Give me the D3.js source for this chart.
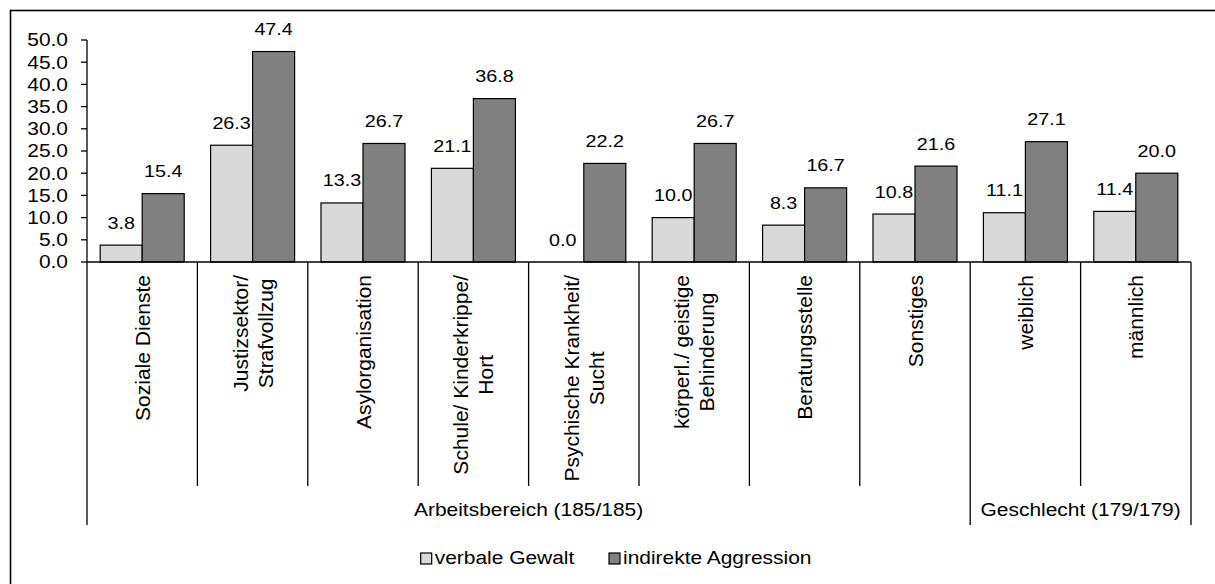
<!DOCTYPE html>
<html>
<head>
<meta charset="utf-8">
<script src="https://cdn.jsdelivr.net/npm/d3@7"></script>
<style>
  html, body { margin: 0; padding: 0; background: #fff; }
  svg { display: block; }
  text { font-family: "Liberation Sans", Arial, sans-serif; fill: #000; }
</style>
</head>
<body>
<svg id="chart" width="1215" height="584"></svg>
<script>
// ---- data ----
const categories = [
  "Soziale Dienste",
  "Justizsektor/\nStrafvollzug",
  "Asylorganisation",
  "Schule/ Kinderkrippe/\nHort",
  "Psychische Krankheit/\nSucht",
  "körperl./ geistige\nBehinderung",
  "Beratungsstelle",
  "Sonstiges",
  "weiblich",
  "männlich"
];
const seriesNames = ["verbale Gewalt", "indirekte Aggression"];
const verbaleGewalt = [3.8, 26.3, 13.3, 21.1, 0.0, 10.0, 8.3, 10.8, 11.1, 11.4];
const indirekteAggression = [15.4, 47.4, 26.7, 36.8, 22.2, 26.7, 16.7, 21.6, 27.1, 20.0];
const groupNames = ["Arbeitsbereich (185/185)", "Geschlecht (179/179)"];
const groupSizes = [8, 2];
const yTicks = [0, 5, 10, 15, 20, 25, 30, 35, 40, 45, 50];

// ---- layout / style ----
const colors = ["#d9d9d9", "#808080"];
const SX = 1.19; // horizontal glyph stretch of the original's horizontal texts
const svg = d3.select("#chart");

svg.append("rect").attr("x", 10.5).attr("y", 10.5)
  .attr("width", 1230).attr("height", 600)
  .attr("fill", "none").attr("stroke", "#000").attr("stroke-width", 1.6);

const x = d3.scaleBand().domain(categories).range([87, 1191]).paddingInner(0).paddingOuter(0);
const xs = d3.scaleBand().domain(seriesNames).range([0, x.bandwidth()]).paddingInner(0).paddingOuter(0.314);
const y = d3.scaleLinear().domain([0, 50]).range([262, 40]);

function sText(parent, px, py, str, size, anchor) {
  const g = parent.append("g").attr("transform", `translate(${px},${py}) scale(${SX},1)`);
  return g.append("text").attr("x", 0).attr("y", 0)
    .attr("font-size", size).attr("text-anchor", anchor).text(str);
}

// y axis
const gy = svg.append("g");
gy.append("line").attr("x1", 87).attr("x2", 87).attr("y1", y(50)).attr("y2", y(0))
  .attr("stroke", "#000").attr("stroke-width", 1.3);
yTicks.forEach(t => {
  gy.append("line").attr("x1", 81).attr("x2", 87).attr("y1", y(t)).attr("y2", y(t))
    .attr("stroke", "#000").attr("stroke-width", 1.3);
  sText(gy, 68, y(t) + 6.3, d3.format(".1f")(t), 17.6, "end");
});

// bars
const series = [verbaleGewalt, indirekteAggression];
const gb = svg.append("g");
categories.forEach((c, i) => {
  seriesNames.forEach((s, j) => {
    const v = series[j][i];
    const bx = x(c) + xs(s);
    if (v > 0) {
      gb.append("rect").attr("x", bx).attr("y", y(v))
        .attr("width", xs.bandwidth()).attr("height", y(0) - y(v))
        .attr("fill", colors[j]).attr("stroke", "#000").attr("stroke-width", 1.2);
    }
    sText(gb, bx + xs.bandwidth() / 2, y(v) - 16.5, d3.format(".1f")(v), 16.6, "middle");
  });
});

// x axis line
svg.append("line").attr("x1", 87).attr("x2", 1191).attr("y1", y(0)).attr("y2", y(0))
  .attr("stroke", "#000").attr("stroke-width", 1.3);

// category dividers
const boundaries = categories.map(c => x(c)).concat([x.range()[1]]);
const groupBounds = [0];
groupSizes.forEach(n => groupBounds.push(groupBounds[groupBounds.length - 1] + n));
boundaries.forEach((bx, k) => {
  const isGroup = groupBounds.includes(k);
  svg.append("line").attr("x1", bx).attr("x2", bx).attr("y1", y(0)).attr("y2", isGroup ? 525 : 486)
    .attr("stroke", "#000").attr("stroke-width", 1.3);
});

// category labels (rotated)
const fs = 21, capH = 0.716 * fs, lineS = 25;
categories.forEach(c => {
  const lines = c.split("\n");
  const cx = x(c) + x.bandwidth() / 2;
  const g = svg.append("g");
  const t = g.append("text").attr("font-size", fs).attr("text-anchor", "middle");
  const y0 = (capH - (lines.length - 1) * lineS) / 2;
  lines.forEach((l, k) => {
    t.append("tspan").attr("x", 0).attr("y", y0 + k * lineS).text(l);
  });
  let L = 0;
  t.selectAll("tspan").each(function() { L = Math.max(L, this.getComputedTextLength()); });
  g.attr("transform", `translate(${cx},${275 + L / 2}) rotate(-90)`);
});

// group labels
groupNames.forEach((gname, k) => {
  const x0 = boundaries[groupBounds[k]], x1 = boundaries[groupBounds[k + 1]];
  sText(svg, (x0 + x1) / 2, 516, gname, 17.6, "middle");
});

// legend
const legX = [420.7, 609];
seriesNames.forEach((s, j) => {
  svg.append("rect").attr("x", legX[j]).attr("y", 553).attr("width", 11).attr("height", 11)
    .attr("fill", colors[j]).attr("stroke", "#000").attr("stroke-width", 1.2);
  sText(svg, legX[j] + 14, 564.3, s, 17.6, "start");
});
</script>
</body>
</html>
